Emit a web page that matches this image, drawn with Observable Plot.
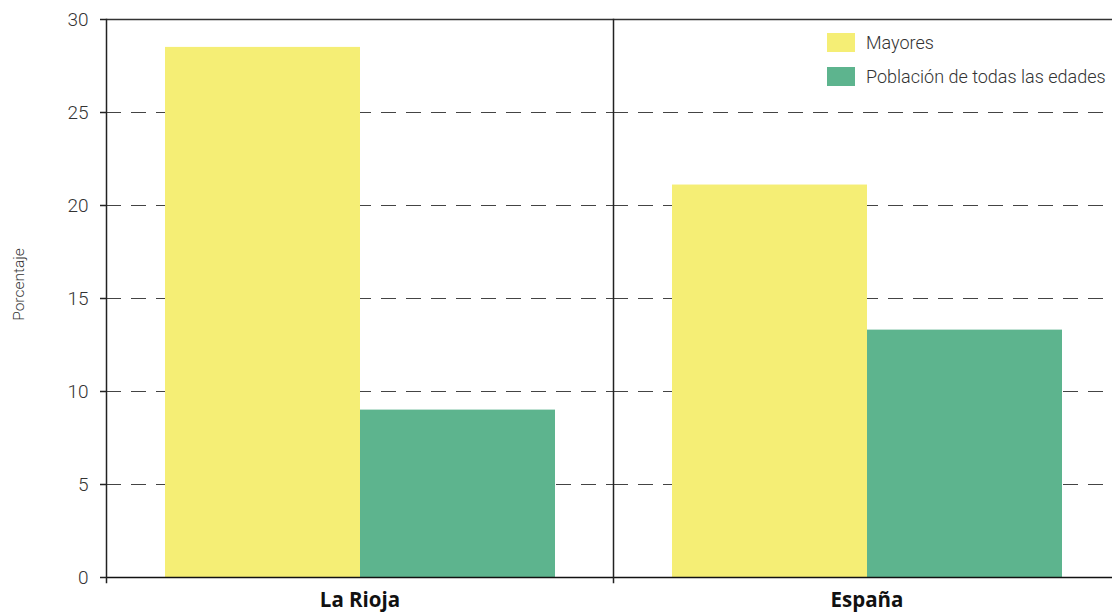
<!DOCTYPE html>
<html><head><meta charset="utf-8">
<script src="https://cdn.jsdelivr.net/npm/d3@7"></script>
<script src="https://cdn.jsdelivr.net/npm/@observablehq/plot@0.6"></script>
<style>
html,body{margin:0;padding:0;background:#fff;overflow:hidden;}
#wrap{position:relative;width:1112px;height:612px;overflow:hidden;font-family:Roboto,"Open Sans",sans-serif;}
#wrap svg{max-width:none !important;}
#legend{position:absolute;left:827px;top:33px;}
.item{display:flex;align-items:center;height:19px;margin-bottom:15px;font-size:18px;font-weight:300;color:#333;white-space:nowrap;}
.sw{width:28px;height:19px;margin-right:11px;flex:none;}
</style></head>
<body><div id="wrap"><div id="legend"></div></div>
<script>
const regions = ["La Rioja", "España"];
const series = ["Mayores", "Población de todas las edades"];
const mayores = [28.5, 21.1];
const poblacion = [9.0, 13.3];
const colors = ["#f5ee75", "#5db48e"];
const yTicks = [0, 5, 10, 15, 20, 25, 30];
const gridTicks = [5, 10, 15, 20, 25];

const data = [];
regions.forEach((r, i) => {
  data.push({region: r, serie: series[0], value: mayores[i]});
  data.push({region: r, serie: series[1], value: poblacion[i]});
});

const chart = Plot.plot({
  width: 1120,
  height: 612,
  marginLeft: 106,
  marginRight: 0,
  marginTop: 19,
  marginBottom: 35,
  style: {fontFamily: "Roboto, 'Open Sans', sans-serif", background: "transparent", maxWidth: "none"},
  fx: {domain: regions, padding: 0, label: null},
  x: {domain: series, paddingInner: 0, paddingOuter: 0.3, axis: null},
  y: {domain: [0, 30], label: null},
  color: {domain: series, range: colors},
  marks: [
    Plot.gridY(gridTicks, {stroke: "#444", strokeOpacity: 1, strokeDasharray: "15,10", strokeWidth: 1.2}),
    Plot.barY(data, {fx: "region", x: "serie", y: "value", fill: "serie"}),
    Plot.ruleY([0], {stroke: "#111", strokeWidth: 1.5}),
    Plot.ruleY([30], {stroke: "#333", strokeWidth: 1.5}),
    Plot.frame({anchor: "left", stroke: "#222", strokeWidth: 1.5, insetBottom: -5}),
    Plot.axisY({ticks: yTicks, tickSize: 6, tickPadding: 12, fontSize: 19, fontWeight: 300, stroke: "#222", strokeWidth: 1.5, color: "#333", label: "Porcentaje", labelAnchor: "center", labelArrow: "none", labelOffset: 94}),
    Plot.axisFx({anchor: "bottom", tickSize: 0, tickPadding: 15, fontSize: 20.5, fontWeight: "bold", fontFamily: "'Open Sans', sans-serif", color: "#111", label: null})
  ]
});
const wrap = document.getElementById("wrap");
wrap.insertBefore(chart, wrap.firstChild);
const lab = chart.querySelector('g[aria-label="y-axis label"]');
if (lab) {
  lab.setAttribute("font-size", 15.5);
  lab.setAttribute("fill", "#333");
  lab.setAttribute("fill-opacity", 1);
  lab.setAttribute("transform", (lab.getAttribute("transform") || "") + " translate(0,-14)");
  lab.querySelectorAll("text").forEach(t => { t.setAttribute("font-size", 15.5); t.setAttribute("fill", "#333"); t.setAttribute("fill-opacity", 1); });
}

const legend = document.getElementById("legend");
series.forEach((s, i) => {
  const d = document.createElement("div");
  d.className = "item";
  d.innerHTML = `<div class="sw" style="background:${colors[i]}"></div><span>${s}</span>`;
  legend.appendChild(d);
});
</script>
</body></html>
